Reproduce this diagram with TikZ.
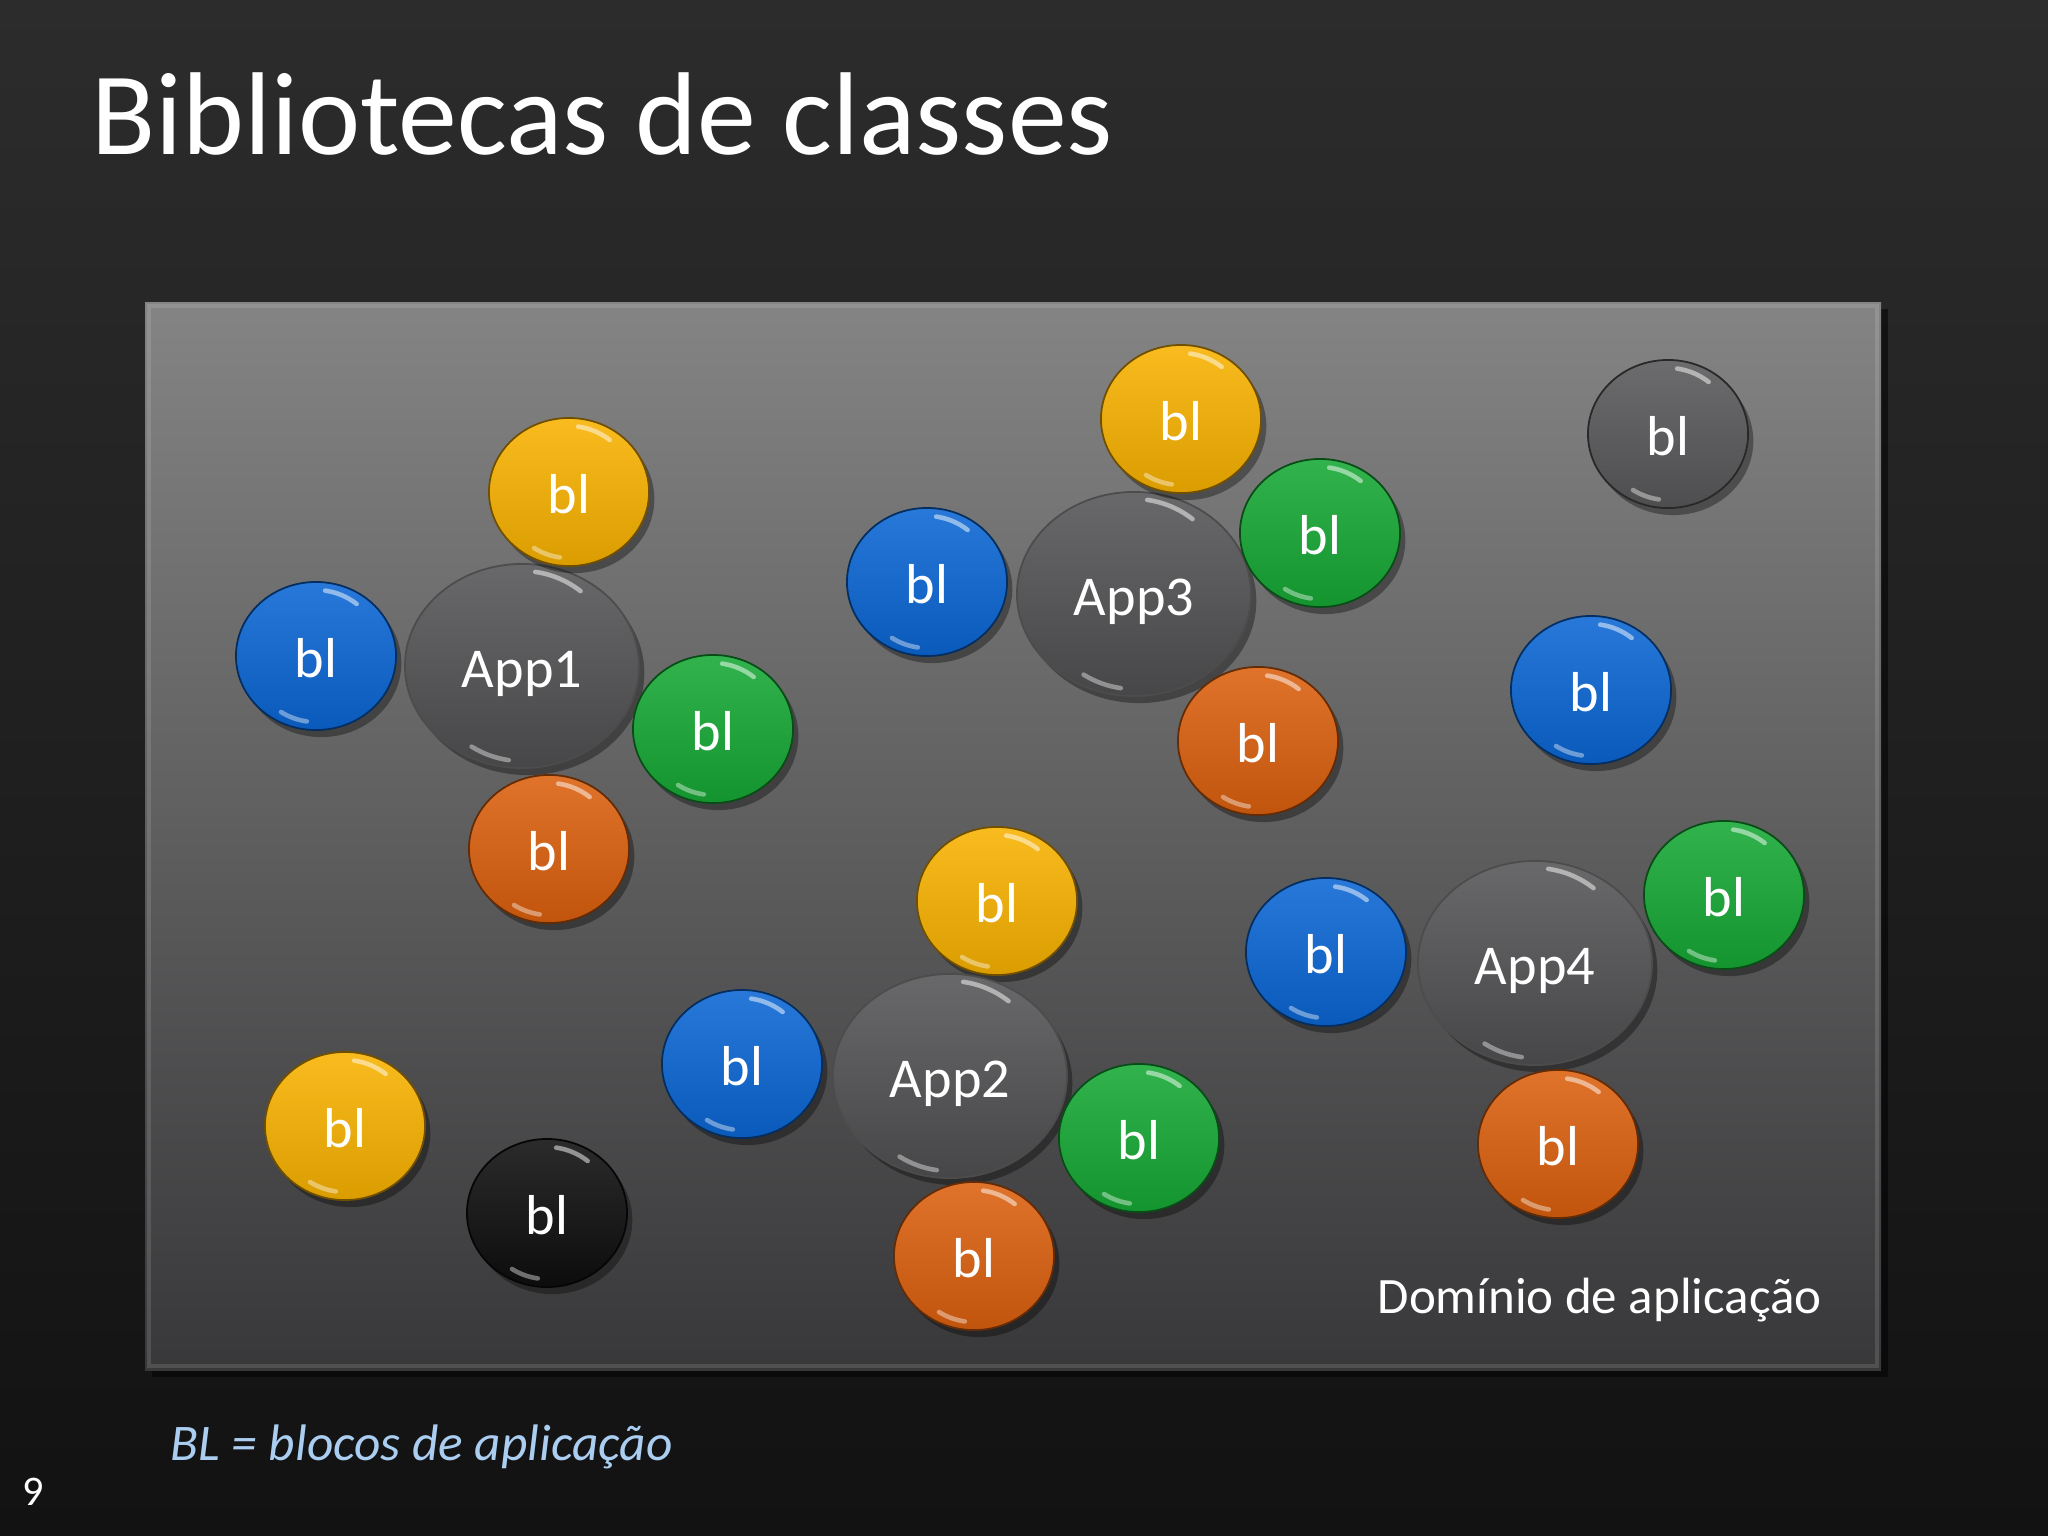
\documentclass[tikz,border=0pt]{standalone}
\usepackage{fontspec}
\setmainfont{Carlito}
\usepackage{tikz}
\usetikzlibrary{shapes.geometric, shadows}

\definecolor{bgtop}{RGB}{44,44,45}
\definecolor{bgbot}{RGB}{18,18,19}
\definecolor{paneltop}{RGB}{132,132,132}
\definecolor{panelbot}{RGB}{56,56,58}
\definecolor{blblue}{RGB}{10,102,212}
\definecolor{blyellow}{RGB}{248,178,0}
\definecolor{blgreen}{RGB}{22,168,52}
\definecolor{blorange}{RGB}{220,96,14}
\definecolor{blgray}{RGB}{88,88,90}
\definecolor{blblack}{RGB}{14,14,14}
\definecolor{appgray}{RGB}{88,88,90}
\definecolor{notecol}{RGB}{170,205,240}

\begin{document}
\begin{tikzpicture}[x=0.01cm, y=-0.01cm,
  every node/.style = {align=center, text=white, inner sep=0pt},
  gloss/.style = {path picture={
    \draw[white, opacity=.5, line width=1.3pt, line cap=round]
      (path picture bounding box.center) ++(82:#1) arc[start angle=82, end angle=52, x radius=#1, y radius=#1];
    \draw[white, opacity=.4, line width=1.3pt, line cap=round]
      (path picture bounding box.center) ++(262:#1) arc[start angle=262, end angle=238, x radius=#1, y radius=#1];}},
  disc/.style = {ellipse, minimum width=1.6cm, minimum height=1.48cm,
    font=\fontsize{16}{18}\selectfont, text height=12.5pt, text depth=0pt,
    draw=#1!45!black, line width=0.5pt,
    top color=#1!88!white, bottom color=#1!88!black, gloss=0.66cm,
    drop shadow={fill=black, shadow xshift=1.5pt, shadow yshift=-2pt, opacity=.35}},
  app/.style = {ellipse, minimum width=2.34cm, minimum height=2.04cm,
    font=\fontsize{16}{18}\selectfont, text height=12.5pt, text depth=0pt,
    draw=black!70, line width=0.5pt,
    top color=appgray!90!white, bottom color=appgray!80!black, gloss=0.95cm,
    drop shadow={fill=black, shadow xshift=1.5pt, shadow yshift=-2pt, opacity=.35}}]

 \shade[top color=bgtop, bottom color=bgbot] (0,0) rectangle (2048,1536);
 \path[top color=paneltop, bottom color=panelbot,
   drop shadow={fill=black, shadow xshift=2pt, shadow yshift=-2pt, opacity=.5}]
   (145,302) rectangle (1881,1370);
 \draw[white, opacity=.12, line width=1pt] (149,306) rectangle (1877,1366);

 \node[anchor=base west, font=\fontsize{33.5}{38}\selectfont] (title) at (91,154) {Bibliotecas de classes};

 \node[app] (app1) at (522,666) {App1};
 \node[disc=blblue] (b1l) at (316,656) {bl};
 \node[disc=blyellow] (b1t) at (569,492) {bl};
 \node[disc=blgreen] (b1r) at (713,729) {bl};
 \node[disc=blorange] (b1b) at (549,849) {bl};

 \node[app] (app3) at (1134,594) {App3};
 \node[disc=blblue] (b3l) at (927,582) {bl};
 \node[disc=blyellow] (b3t) at (1181,419) {bl};
 \node[disc=blgreen] (b3r) at (1320,533) {bl};
 \node[disc=blorange] (b3b) at (1258,741) {bl};

 \node[disc=blgray] (bgray) at (1668,434) {bl};
 \node[disc=blblue] (bblue) at (1591,690) {bl};

 \node[disc=blyellow] (b2t) at (997,901) {bl};
 \node[app] (app2) at (950,1076) {App2};
 \node[disc=blblue] (b2l) at (742,1064) {bl};
 \node[disc=blgreen] (b2r) at (1139,1138) {bl};
 \node[disc=blorange] (b2b) at (974,1256) {bl};

 \node[app] (app4) at (1535,963) {App4};
 \node[disc=blblue] (b4l) at (1326,952) {bl};
 \node[disc=blgreen] (b4r) at (1724,895) {bl};
 \node[disc=blorange] (b4b) at (1558,1144) {bl};

 \node[disc=blyellow] (byellow) at (345,1126) {bl};
 \node[disc=blblack] (bblack) at (547,1213) {bl};

 \node[anchor=base west, font=\fontsize{14.5}{17}\selectfont] (dom) at (1377,1313) {Domínio de aplicação};
 \node[anchor=base west, text=notecol, font=\fontsize{14.6}{17}\selectfont\itshape] (note) at (170,1460) {BL = blocos de aplicação};
 \node[anchor=base west, font=\fontsize{12}{14}\selectfont] (page) at (22,1505) {9};
\end{tikzpicture}
\end{document}
